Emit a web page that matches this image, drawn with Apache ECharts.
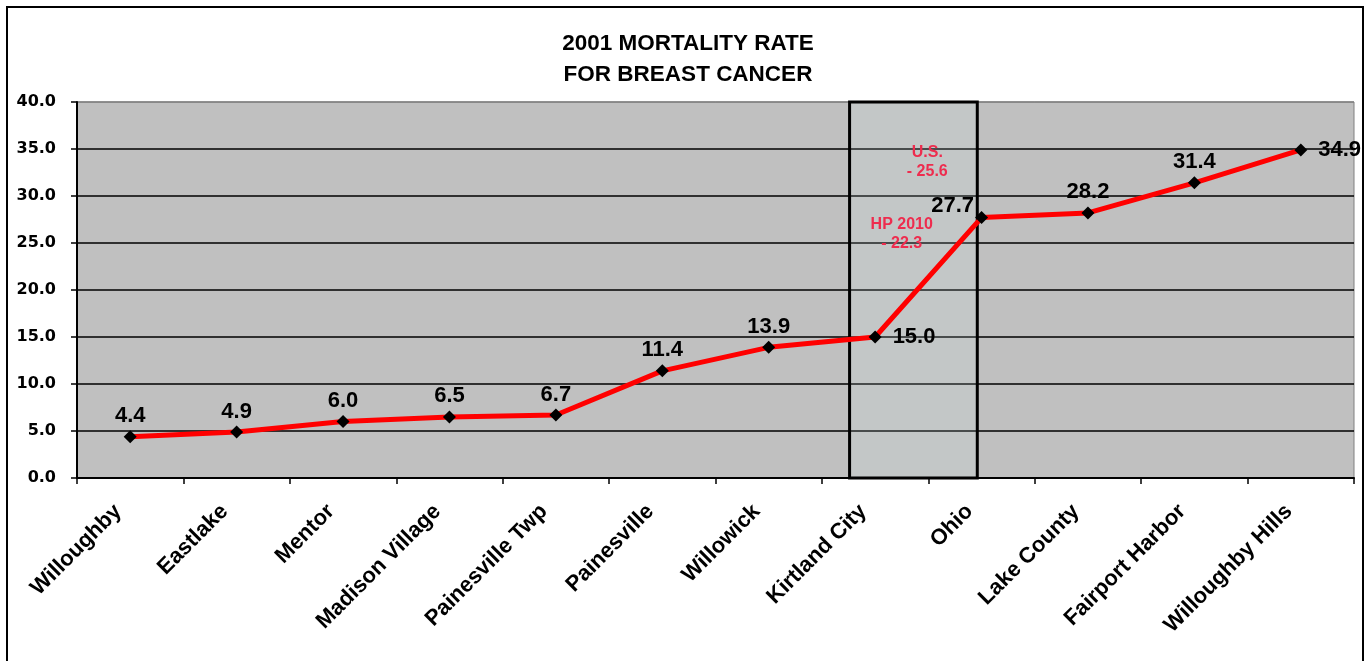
<!DOCTYPE html>
<html>
<head>
<meta charset="utf-8">
<script src="https://cdn.jsdelivr.net/npm/echarts@6/dist/echarts.min.js"></script>
<style>
html,body{margin:0;padding:0;background:#fff;}
#chart{width:1366px;height:661px;}
</style>
</head>
<body>
<div id="chart"></div>
<script>
var categories = ['Willoughby', 'Eastlake', 'Mentor', 'Madison Village', 'Painesville Twp', 'Painesville', 'Willowick', 'Kirtland City', 'Ohio', 'Lake County', 'Fairport Harbor', 'Willoughby Hills'];
var rates = [4.4, 4.9, 6.0, 6.5, 6.7, 11.4, 13.9, 15.0, 27.7, 28.2, 31.4, 34.9];
var titleLines = ['2001 MORTALITY RATE', 'FOR BREAST CANCER'];
var annotationTexts = ['U.S.\n- 25.6', 'HP 2010\n- 22.3'];
var yMin = 0, yMax = 40, yStep = 5;

var chart = echarts.init(document.getElementById('chart'));
var FONT = '"Liberation Sans", Arial, sans-serif';

var pointData = rates.map(function (v, i) {
  var d = { value: v };
  if (i === 7 || i === 11) {
    d.label = { position: 'right', distance: 11 };
  } else if (i === 8) {
    d.label = { position: 'left', distance: 1, offset: [0, -12] };
  }
  return d;
});

var option = {
  animation: false,
  backgroundColor: '#ffffff',
  title: {
    text: titleLines.join('\n'),
    left: 683,
    textAlign: 'center',
    top: 23,
    textStyle: { fontFamily: FONT, fontWeight: 'bold', fontSize: 22.5, lineHeight: 31, color: '#000' }
  },
  graphic: [{
    type: 'rect',
    shape: { x: 7, y: 7, width: 1356, height: 700 },
    style: { fill: 'none', stroke: '#000', lineWidth: 2 },
    z: 100
  }],
  grid: {
    left: 77, right: 12, top: 102, bottom: 183,
    show: true, backgroundColor: '#C0C0C0', borderColor: '#808080', borderWidth: 1
  },
  xAxis: [{
    type: 'category',
    data: categories,
    axisLine: { lineStyle: { color: '#000', width: 2 } },
    axisTick: { show: true, length: 6, lineStyle: { color: '#000', width: 1.5 } },
    axisLabel: {
      rotate: 45, interval: 0, margin: 18, padding: [0, 17, 0, 0],
      fontFamily: FONT, fontWeight: 'bold', fontSize: 22, color: '#000'
    }
  }, {
    type: 'value', min: 0, max: 12, show: false
  }],
  yAxis: {
    type: 'value', min: yMin, max: yMax, interval: yStep,
    axisLine: { show: true, lineStyle: { color: '#000', width: 2 } },
    axisTick: { show: true, length: 6, lineStyle: { color: '#000', width: 1.5 } },
    axisLabel: {
      margin: 21, fontFamily: '"DejaVu Sans", sans-serif', fontWeight: 'bold', fontSize: 16, color: '#000',
      formatter: function (v) { return v.toFixed(1); }
    },
    splitLine: { show: true, lineStyle: { color: ['#000', '#000', '#000', '#000', '#000', '#000', '#000', '#000', '#808080'], width: 1.6 } }
  },
  series: [{
    type: 'scatter',
    xAxisIndex: 1,
    yAxisIndex: 0,
    data: [],
    silent: true,
    markArea: {
      silent: true,
      itemStyle: { color: 'rgba(212,239,239,0.15)', borderColor: '#000', borderWidth: 3 },
      data: [[{ xAxis: 7.26, yAxis: 0 }, { xAxis: 8.46, yAxis: 40 }]]
    },
    markPoint: {
      silent: true,
      symbol: 'rect',
      symbolSize: 1,
      itemStyle: { color: 'rgba(0,0,0,0)' },
      label: {
        show: true, position: 'inside', formatter: '{b}',
        fontFamily: FONT, fontWeight: 'bold', fontSize: 16, lineHeight: 19, color: '#EE2C4E', align: 'center'
      },
      data: [
        { name: annotationTexts[0], coord: [7.99, 33.6] },
        { name: annotationTexts[1], coord: [7.75, 25.9] }
      ]
    }
  }, {
    type: 'line',
    data: pointData,
    z: 5,
    symbol: 'diamond',
    symbolSize: 13,
    lineStyle: { color: '#FF0000', width: 5 },
    itemStyle: { color: '#000' },
    label: {
      show: true, position: 'top', distance: 3,
      fontFamily: FONT, fontWeight: 'bold', fontSize: 22, color: '#000',
      formatter: function (p) { return p.value.toFixed(1); }
    }
  }]
};
chart.setOption(option);
</script>
</body>
</html>
